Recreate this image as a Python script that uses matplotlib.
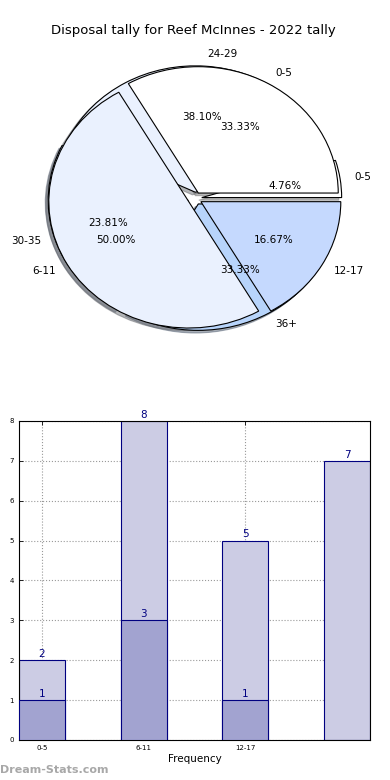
import matplotlib
matplotlib.use("Agg")
import matplotlib.pyplot as plt

# pie data (two pies drawn on the same axes)
pie_a_labels = ["0-5", "24-29", "30-35", "36+"]
pie_a_values = [1, 8, 5, 7]
pie_b_labels = ["0-5", "6-11", "12-17"]
pie_b_values = [2, 3, 1]

# bar data
bar_ticks = ["0-5", "6-11", "12-17"]
bar_total = [2, 8, 5, 7]
bar_part = [1, 3, 1]

pie_a_colors = ["white", "#eaf1fe", "#c5d9fe", "#b7d4fb"]
pie_b_colors = ["white", "#eaf1fe", "#c5d9fe"]

fig = plt.figure(figsize=(3.9, 7.8), dpi=100)

fig.text(0.497, 0.9615, "Disposal tally for Reef McInnes - 2022 tally",
         ha="center", va="center", fontsize=9.5)

# pie chart
ax1 = fig.add_axes([0.051, 0.543, 0.897, 0.405])
wp = {"edgecolor": "black", "linewidth": 0.8}
sh = {"ox": -0.015, "oy": -0.015, "shade": 0.55}
ax1.pie(pie_a_values, labels=pie_a_labels, colors=pie_a_colors,
        explode=[0.05] * len(pie_a_values), autopct="%1.2f%%", shadow=sh,
        startangle=0, wedgeprops=wp, textprops={"fontsize": 7.5})
ax1.pie(pie_b_values, labels=pie_b_labels, colors=pie_b_colors,
        explode=[0.05] * len(pie_b_values), autopct="%1.2f%%", shadow=sh,
        startangle=0, wedgeprops=wp, textprops={"fontsize": 7.5})
ax1.set_aspect("auto")
ax1.set_xlim(-1.25, 1.25)
ax1.set_ylim(-1.25, 1.25)

# bar chart
ax2 = fig.add_axes([0.0487, 0.0513, 0.9, 0.409])
w = 0.45
xs = list(range(len(bar_total)))
ax2.bar(xs, bar_total, width=w, color="#ccccE4", edgecolor="#000080",
        linewidth=0.8, zorder=2)
ax2.bar(xs[:len(bar_part)], bar_part, width=w, color="#a2a3d0",
        edgecolor="#000080", linewidth=0.8, zorder=3)
for x, h in zip(xs, bar_total):
    ax2.text(x, h + 0.03, str(h), ha="center", va="bottom",
             color="#000080", fontsize=7.5, zorder=4)
for x, h in zip(xs, bar_part):
    ax2.text(x, h + 0.03, str(h), ha="center", va="bottom",
             color="#000080", fontsize=7.5, zorder=4)

ax2.set_xlim(-w / 2, len(bar_total) - 1 + w / 2)
ax2.set_ylim(0, 8)
ax2.set_xticks(range(len(bar_ticks)))
ax2.set_xticklabels(bar_ticks)
ax2.set_yticks(range(0, 9))
ax2.tick_params(labelsize=5, direction="in", top=True, right=True,
                length=3, width=0.6)
ax2.grid(True, linestyle=":", color="#999999", linewidth=0.8, zorder=1)
ax2.set_axisbelow(True)
ax2.set_xlabel("Frequency", fontsize=7.5, labelpad=2)

fig.text(0.0, 0.013, "Dream-Stats.com", ha="left", va="center",
         fontsize=8, color="#a8a8a8", fontweight="semibold")

plt.savefig("out.png", dpi=100)
